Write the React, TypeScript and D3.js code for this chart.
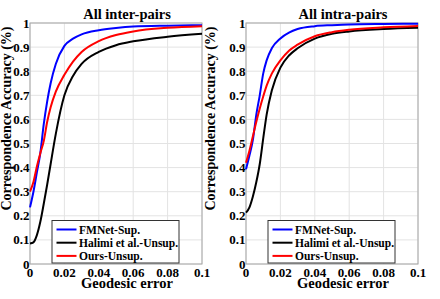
import React from 'react';
import * as d3 from 'd3';

const errGrid = [0, 0.002, 0.004, 0.006, 0.008, 0.01, 0.012, 0.015, 0.02, 0.025, 0.03, 0.04, 0.05, 0.06, 0.08, 0.1];

const interFMNet = [0.235, 0.3, 0.38, 0.46, 0.58, 0.675, 0.75, 0.83, 0.905, 0.935, 0.953, 0.97, 0.979, 0.985, 0.989, 0.991];
const interHalimi = [0.085, 0.09, 0.12, 0.175, 0.25, 0.33, 0.415, 0.54, 0.7, 0.78, 0.83, 0.88, 0.908, 0.924, 0.943, 0.955];
const interOurs = [0.3, 0.34, 0.405, 0.46, 0.51, 0.59, 0.65, 0.715, 0.785, 0.84, 0.88, 0.925, 0.95, 0.965, 0.98, 0.987];

const intraFMNet = [0.393, 0.45, 0.515, 0.62, 0.7, 0.79, 0.845, 0.895, 0.936, 0.96, 0.975, 0.987, 0.991, 0.994, 0.996, 0.997];
const intraHalimi = [0.213, 0.235, 0.28, 0.34, 0.415, 0.52, 0.62, 0.72, 0.815, 0.865, 0.895, 0.935, 0.955, 0.965, 0.975, 0.98];
const intraOurs = [0.42, 0.47, 0.53, 0.59, 0.645, 0.695, 0.74, 0.79, 0.845, 0.885, 0.91, 0.945, 0.962, 0.972, 0.982, 0.988];

const seriesNames = ['FMNet-Sup.', 'Halimi et al.-Unsup.', 'Ours-Unsup.'];
const seriesColors = ['#0000ff', '#000000', '#ff0000'];

const xTicks = [0, 0.02, 0.04, 0.06, 0.08, 0.1];
const xTickLabels = ['0', '0.02', '0.04', '0.06', '0.08', '0.1'];
const yTicks = [0, 0.1, 0.2, 0.3, 0.4, 0.5, 0.6, 0.7, 0.8, 0.9, 1];
const yTickLabels = ['0', '0.1', '0.2', '0.3', '0.4', '0.5', '0.6', '0.7', '0.8', '0.9', '1'];

const textStyle = { fontFamily: "'Liberation Serif', 'DejaVu Serif', serif", fontWeight: 'bold' } as const;

type PanelProps = {
  left: number;
  title: string;
  ylabelX: number;
  series: number[][];
};

const Panel = ({ left, title, ylabelX, series }: PanelProps) => {
  const width = 172;
  const top = 23;
  const bottom = 264;

  const x = d3.scaleLinear().domain([0, 0.1]).range([left, left + width]);
  const y = d3.scaleLinear().domain([0, 1]).range([bottom, top]);

  const line = d3.line<[number, number]>()
    .x(d => x(d[0]))
    .y(d => y(d[1]))
    .curve(d3.curveMonotoneX);

  const labelCx = left + width / 2 + 11;
  const legX = left + 22;
  const legY = 220.5;

  return (
    <g>
      <rect x={left} y={top} width={width} height={bottom - top} fill="#fff" />
      {xTicks.map(t => (
        <line key={'gx' + t} x1={x(t)} x2={x(t)} y1={top} y2={bottom} stroke="#e3e3e3" strokeWidth={1} />
      ))}
      {yTicks.map(t => (
        <line key={'gy' + t} x1={left} x2={left + width} y1={y(t)} y2={y(t)} stroke="#e3e3e3" strokeWidth={1} />
      ))}
      <rect x={left} y={top} width={width} height={bottom - top} fill="none" stroke="#a6a6a6" strokeWidth={1} />

      {series.map((vals, i) => (
        <path
          key={seriesNames[i]}
          d={line(errGrid.map((e, j) => [e, vals[j]] as [number, number])) || ''}
          fill="none"
          stroke={seriesColors[i]}
          strokeWidth={2}
          strokeLinejoin="round"
        />
      ))}

      {xTicks.map((t, i) => (
        <text key={'xt' + t} x={x(t)} y={277} textAnchor="middle" fontSize={13} style={textStyle}>{xTickLabels[i]}</text>
      ))}
      {yTicks.map((t, i) => (
        <text key={'yt' + t} x={left - 0.5} y={y(t)} dy="0.35em" textAnchor="end" fontSize={13} style={textStyle}>{yTickLabels[i]}</text>
      ))}

      <text x={labelCx} y={19} textAnchor="middle" fontSize={14.5} style={textStyle}>{title}</text>
      <text x={labelCx} y={288} textAnchor="middle" fontSize={14.5} style={textStyle}>Geodesic error</text>
      <text transform={`translate(${ylabelX},118.5) rotate(-90)`} textAnchor="middle" fontSize={14} style={textStyle}>
        Correspondence Accuracy (%)
      </text>

      <rect x={legX} y={legY} width={127} height={42.5} fill="#fff" stroke="#333" strokeWidth={1} />
      {seriesNames.map((name, i) => {
        const ly = legY + 9 + i * 13.2;
        return (
          <g key={'leg' + name}>
            <line x1={legX + 4.5} x2={legX + 24.5} y1={ly} y2={ly} stroke={seriesColors[i]} strokeWidth={2} />
            <text x={legX + 27} y={ly} dy="0.35em" fontSize={11.5} style={textStyle}>{name}</text>
          </g>
        );
      })}
    </g>
  );
};

export default function App() {
  return (
    <svg width={440} height={299} style={{ position: 'absolute', left: 0, top: 0, background: '#fff' }}>
      <rect width={440} height={299} fill="#fff" />
      <Panel left={30} ylabelX={10.5} title="All inter-pairs" series={[interFMNet, interHalimi, interOurs]} />
      <Panel left={246} ylabelX={215} title="All intra-pairs" series={[intraFMNet, intraHalimi, intraOurs]} />
    </svg>
  );
}
